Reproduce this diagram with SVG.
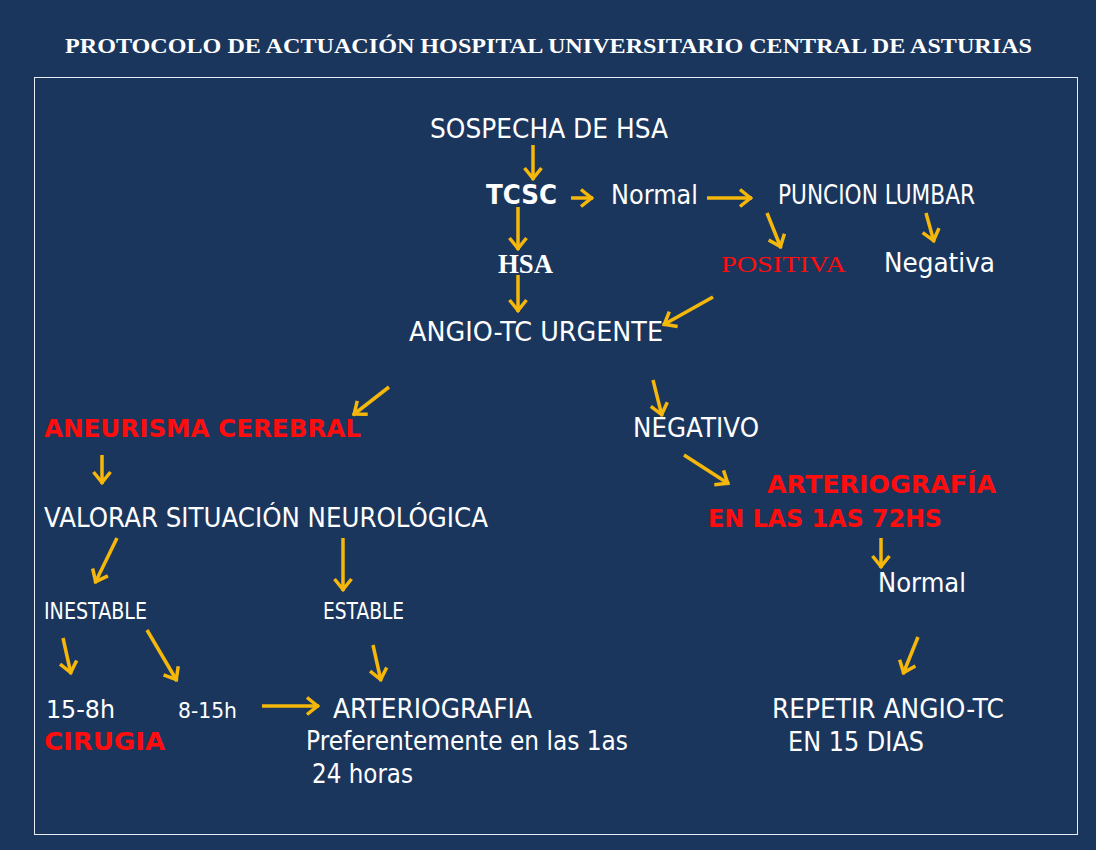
<svg xmlns="http://www.w3.org/2000/svg" width="1096" height="850" viewBox="0 0 1096 850">
<style>
.t{font-family:"DejaVu Sans","Liberation Sans",sans-serif;fill:#ffffff;font-size:26px}
.b{font-weight:bold}
.r{fill:#ff0d0d}
.s{font-family:"Liberation Serif","DejaVu Serif",serif}
.c line{stroke:#f5b70a;stroke-width:3.5;marker-end:url(#ah)}
</style>
<defs>
<marker id="ah" markerUnits="userSpaceOnUse" viewBox="-16 -12 20 24" markerWidth="20" markerHeight="24" refX="0" refY="0" orient="auto" overflow="visible">
<path d="M-12,-8.5 L-1.5,0 L-12,8.5" fill="none" stroke="#f5b70a" stroke-width="3.5"/>
</marker>
</defs>
<rect width="1096" height="850" fill="#1b365d"/>
<g id="title"><text class="t s b" x="65" y="53" style="font-size:20px" textLength="967" lengthAdjust="spacingAndGlyphs">PROTOCOLO DE ACTUACIÓN HOSPITAL UNIVERSITARIO CENTRAL DE ASTURIAS</text></g>
<rect x="34.5" y="77.5" width="1043" height="757" fill="none" stroke="#e8ecf2" stroke-width="1"/>

<g class="c" id="connectors">
<line x1="533" y1="145" x2="533" y2="180"/>
<line x1="571" y1="198" x2="593" y2="198"/>
<line x1="707" y1="198" x2="752" y2="198"/>
<line x1="518" y1="207" x2="518" y2="250"/>
<line x1="767" y1="213" x2="781" y2="248"/>
<line x1="926" y1="213" x2="934" y2="242"/>
<line x1="518" y1="275" x2="518" y2="312"/>
<line x1="713" y1="297" x2="663" y2="325"/>
<line x1="389" y1="387" x2="353" y2="415"/>
<line x1="653" y1="380" x2="662" y2="416"/>
<line x1="102" y1="455" x2="102" y2="484"/>
<line x1="684" y1="455" x2="729" y2="484"/>
<line x1="117" y1="538" x2="95" y2="583"/>
<line x1="343" y1="538" x2="343" y2="591"/>
<line x1="881" y1="538" x2="881" y2="568"/>
<line x1="63" y1="638" x2="71" y2="674"/>
<line x1="147" y1="630" x2="177" y2="681"/>
<line x1="373" y1="645" x2="381" y2="681"/>
<line x1="918" y1="637" x2="903" y2="674"/>
<line x1="262" y1="706" x2="319" y2="706"/>
</g>

<g id="sospecha"><text class="t" x="430" y="138" textLength="238" lengthAdjust="spacingAndGlyphs">SOSPECHA DE HSA</text></g>
<g id="tcsc"><text class="t b" x="486" y="204" textLength="71" lengthAdjust="spacingAndGlyphs">TCSC</text></g>
<g id="normal1"><text class="t" x="611" y="204" textLength="87" lengthAdjust="spacingAndGlyphs">Normal</text></g>
<g id="puncion"><text class="t" x="778" y="204" textLength="197" lengthAdjust="spacingAndGlyphs">PUNCION LUMBAR</text></g>
<g id="hsa"><text class="t s b" x="498" y="273" style="font-size:27px" textLength="55" lengthAdjust="spacingAndGlyphs">HSA</text></g>
<g id="positiva"><text class="t s r" x="721" y="272" style="font-size:24px" textLength="125" lengthAdjust="spacingAndGlyphs">POSITIVA</text></g>
<g id="negativa"><text class="t" x="884" y="272" textLength="111" lengthAdjust="spacingAndGlyphs">Negativa</text></g>
<g id="angiotc"><text class="t" x="409" y="341" textLength="254" lengthAdjust="spacingAndGlyphs">ANGIO-TC URGENTE</text></g>
<g id="aneurisma"><text class="t b r" x="44" y="437" style="font-size:25px" textLength="317" lengthAdjust="spacingAndGlyphs">ANEURISMA CEREBRAL</text></g>
<g id="negativo"><text class="t" x="633" y="437" textLength="126" lengthAdjust="spacingAndGlyphs">NEGATIVO</text></g>
<g id="arteriografia72">
<text class="t b r" x="767" y="493" style="font-size:25px" textLength="229" lengthAdjust="spacingAndGlyphs">ARTERIOGRAFÍA</text>
<text class="t b r" x="708" y="527" style="font-size:25px" textLength="234" lengthAdjust="spacingAndGlyphs">EN LAS 1AS 72HS</text>
</g>
<g id="valorar"><text class="t" x="44" y="527" textLength="444" lengthAdjust="spacingAndGlyphs">VALORAR SITUACIÓN NEUROLÓGICA</text></g>
<g id="normal2"><text class="t" x="878" y="592" textLength="88" lengthAdjust="spacingAndGlyphs">Normal</text></g>
<g id="inestable"><text class="t" x="44" y="619" style="font-size:22.5px" textLength="103" lengthAdjust="spacingAndGlyphs">INESTABLE</text></g>
<g id="estable"><text class="t" x="323" y="619" style="font-size:22.5px" textLength="81" lengthAdjust="spacingAndGlyphs">ESTABLE</text></g>
<g id="cirugia">
<text class="t" x="46" y="718" style="font-size:25px" textLength="69" lengthAdjust="spacingAndGlyphs">15-8h</text>
<text class="t b r" x="44" y="750" style="font-size:25px" textLength="121" lengthAdjust="spacingAndGlyphs">CIRUGIA</text>
</g>
<g id="h815"><text class="t" x="178" y="718" style="font-size:21px" textLength="59" lengthAdjust="spacingAndGlyphs">8-15h</text></g>
<g id="arteriografia">
<text class="t" x="333" y="718" textLength="199" lengthAdjust="spacingAndGlyphs">ARTERIOGRAFIA</text>
<text class="t" x="306" y="750" textLength="322" lengthAdjust="spacingAndGlyphs">Preferentemente en las 1as</text>
<text class="t" x="312" y="783" textLength="101" lengthAdjust="spacingAndGlyphs">24 horas</text>
</g>
<g id="repetir">
<text class="t" x="772" y="718" textLength="232" lengthAdjust="spacingAndGlyphs">REPETIR ANGIO-TC</text>
<text class="t" x="788" y="751" textLength="136" lengthAdjust="spacingAndGlyphs">EN 15 DIAS</text>
</g>
</svg>
